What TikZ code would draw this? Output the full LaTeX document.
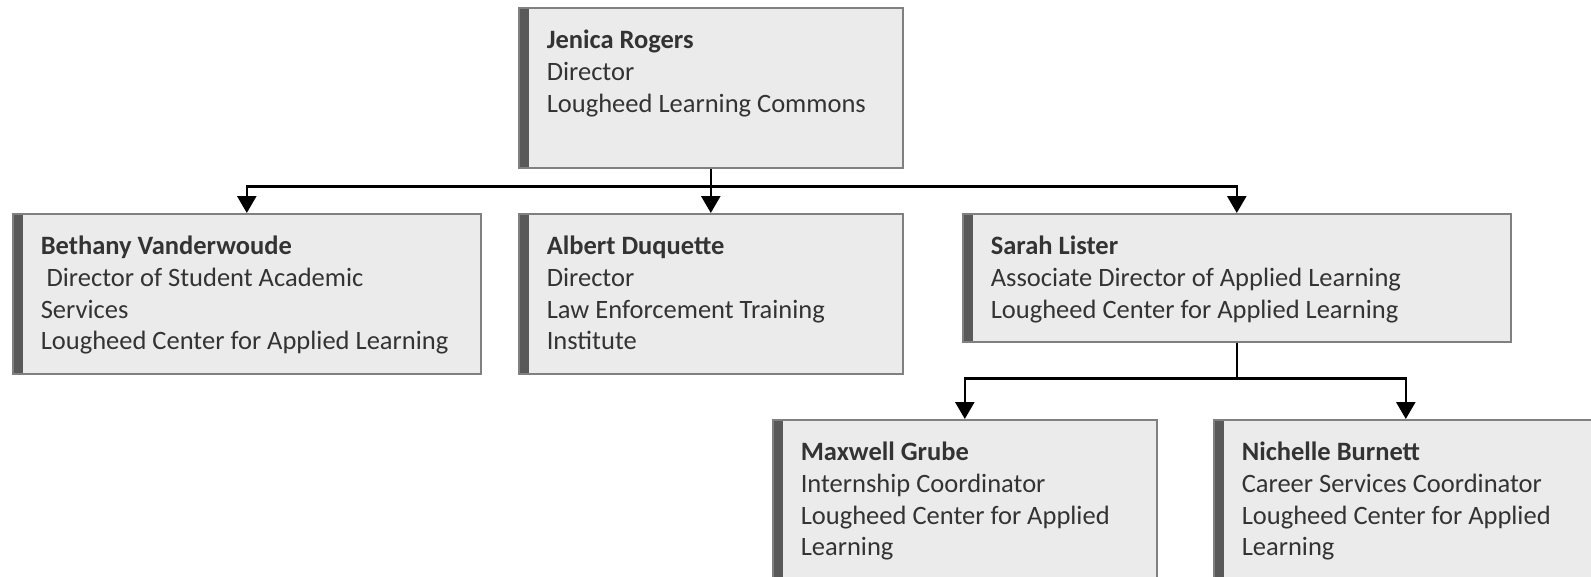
\documentclass[tikz,border=0pt]{standalone}
\usepackage{fontspec}
\setmainfont{Carlito}
\usetikzlibrary{arrows.meta}
\definecolor{boxfill}{HTML}{EBEBEB}
\definecolor{boxline}{HTML}{808080}
\definecolor{boxstrip}{HTML}{595959}
\definecolor{txtgray}{HTML}{333333}
% text of one card: height, width, lines
\newcommand{\persontext}[3]{\parbox[b][#1][t]{#2}{\vspace*{18.4pt}\leftskip=28pt\parindent=0pt\strut #3}}
\begin{document}
\begin{tikzpicture}[x=1pt, y=-1pt, >={Triangle[length=17pt,width=19pt]},
  font=\fontsize{26.5}{31.8}\selectfont, text=txtgray,
  card/.style={draw=boxline, line width=1.6pt, fill=boxfill, inner sep=0pt, anchor=north west,
    path picture={\fill[boxstrip] (path picture bounding box.north west) rectangle ([xshift=10pt]path picture bounding box.south west);}},
  link/.style={line width=2.6pt, black}]
\useasboundingbox (0,0) rectangle (1591,576);
\clip (0,0) rectangle (1591,576);
% cards
\node[card] (jenica) at (518,7) {\persontext{160pt}{384pt}{\textbf{Jenica Rogers}\\Director\\Lougheed Learning Commons}};
\node[card] (bethany) at (12,213) {\persontext{160pt}{468pt}{\textbf{Bethany Vanderwoude}\\\hspace*{0.22em}Director of Student Academic\\Services\\Lougheed Center for Applied Learning}};
\node[card] (albert) at (518,213) {\persontext{160pt}{384pt}{\textbf{Albert Duquette}\\Director\\Law Enforcement Training\\Institute}};
\node[card] (sarah) at (962,213) {\persontext{128pt}{548pt}{\textbf{Sarah Lister}\\Associate Director of Applied Learning\\Lougheed Center for Applied Learning}};
\node[card] (maxwell) at (772,419) {\persontext{160pt}{384pt}{\textbf{Maxwell Grube}\\Internship Coordinator\\Lougheed Center for Applied\\Learning}};
\node[card] (nichelle) at (1213,419) {\persontext{160pt}{384pt}{\textbf{Nichelle Burnett}\\Career Services Coordinator\\Lougheed Center for Applied\\Learning}};
% connectors
\coordinate (bus) at ([yshift=-18pt]jenica.south);
\coordinate (subbus) at ([yshift=-36pt]sarah.south);
\draw[link] (jenica.south) -- (bus);
\foreach \n in {bethany,albert,sarah}{\draw[link,->] (bus) -| (\n.north);}
\draw[link] (sarah.south) -- (subbus);
\foreach \n in {maxwell,nichelle}{\draw[link,->] (subbus) -| (\n.north);}
\end{tikzpicture}
\end{document}
